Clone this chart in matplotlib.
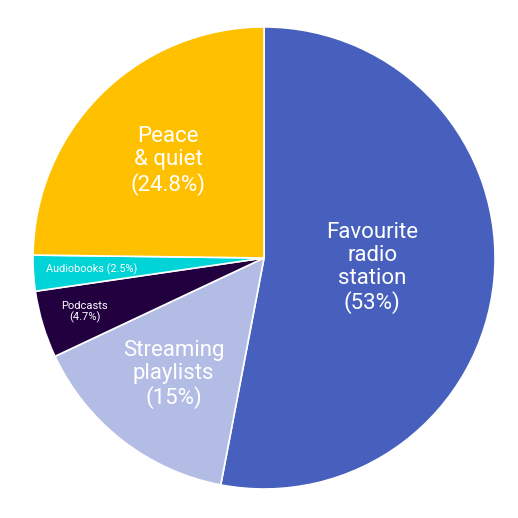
import numpy as np
import matplotlib
matplotlib.use("Agg")
import matplotlib.pyplot as plt

plt.rcParams['font.family'] = ['Roboto', 'DejaVu Sans']

labels = ["Favourite\nradio\nstation", "Streaming\nplaylists", "Podcasts", "Audiobooks", "Peace\n& quiet"]
values = [53, 15, 4.7, 2.5, 24.8]
colors = ["#4760bd", "#b3bce4", "#22003f", "#00d4d6", "#ffc000"]

# label placement (fraction of radius) and font size per slice
label_dist = [0.47, 0.64, 0.81, 0.75, 0.59]
label_size = [16, 16, 8, 7.8, 16]
single_line = [False, False, False, True, False]

fig = plt.figure(figsize=(5.18, 5.18), dpi=100)
r = 0.446
ax = fig.add_axes([0.5097 - r, 0.502 - r, 2 * r, 2 * r])

wedges, _ = ax.pie(values, colors=colors, startangle=90, counterclock=False,
                   wedgeprops=dict(edgecolor="white", linewidth=1.2))

for w, lab, v, d, fs, one in zip(wedges, labels, values, label_dist, label_size, single_line):
    mid = np.deg2rad((w.theta1 + w.theta2) / 2)
    txt = f"{lab} ({v:g}%)" if one else f"{lab}\n({v:g}%)"
    ax.text(d * np.cos(mid), d * np.sin(mid), txt, ha="center", va="center",
            color="white", fontsize=fs, linespacing=1.12)

ax.set_xlim(-1, 1)
ax.set_ylim(-1, 1)
ax.set_aspect("equal")
ax.axis("off")

fig.savefig("out.png", dpi=100)
